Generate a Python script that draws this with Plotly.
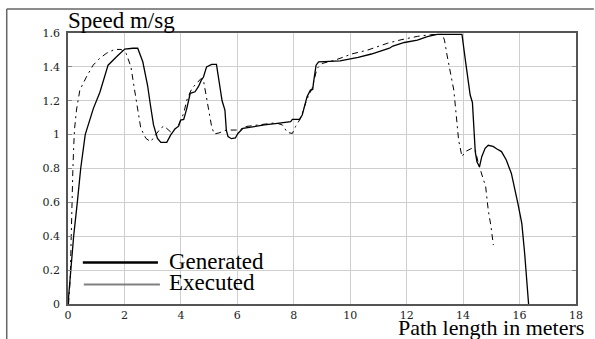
import plotly.graph_objects as go

# Generated speed profile (solid)
gen_x = [0, 0.1, 0.2, 0.33, 0.45, 0.61, 0.9, 1.13, 1.42, 1.72, 2.01, 2.30, 2.47, 2.65, 2.82, 2.92,
         3.03, 3.17, 3.29, 3.50, 3.64, 3.80, 3.92, 3.99, 4.10, 4.21, 4.33, 4.50, 4.62, 4.72, 4.80,
         4.91, 5.09, 5.26, 5.38, 5.46, 5.56, 5.61, 5.67, 5.79, 5.93, 6.02, 6.20, 6.49, 6.96, 7.42,
         7.89, 7.95, 8.20, 8.30, 8.47, 8.59, 8.67, 8.71, 8.79, 8.88, 9.12, 9.64, 10.28, 10.75,
         11.39, 11.51, 11.92, 12.38, 12.73, 13.08, 13.43, 13.96, 14.08, 14.19, 14.25, 14.33, 14.38,
         14.43, 14.49, 14.54, 14.58, 14.66, 14.78, 14.89, 15.06, 15.20, 15.36, 15.53, 15.71, 15.94,
         16.08, 16.18, 16.32]
gen_y = [0, 0.2, 0.4, 0.6, 0.8, 1.0, 1.155, 1.25, 1.41, 1.46, 1.505, 1.51, 1.51, 1.43, 1.29, 1.175,
         1.057, 0.978, 0.954, 0.954, 0.998, 1.035, 1.05, 1.086, 1.09, 1.155, 1.244, 1.253, 1.283, 1.32, 1.34,
         1.40, 1.415, 1.415, 1.30, 1.20, 1.145, 1.027, 0.988, 0.976, 0.98, 1.007, 1.037, 1.043, 1.057, 1.067,
         1.076, 1.09, 1.09, 1.116, 1.224, 1.263, 1.267, 1.32, 1.41, 1.43, 1.432, 1.435, 1.456, 1.476,
         1.51, 1.523, 1.544, 1.558, 1.578, 1.592, 1.592, 1.592, 1.44, 1.303, 1.234, 1.19, 1.057,
         0.90, 0.84, 0.82, 0.81, 0.87, 0.919, 0.937, 0.93, 0.915, 0.90, 0.85, 0.771, 0.594,
         0.476, 0.30, 0]

# Executed speed profile (dash-dot)
exe_x = [0.02, 0.08, 0.10, 0.12, 0.14, 0.17, 0.20, 0.23, 0.30, 0.42, 0.65, 0.89, 1.12, 1.36, 1.65,
         1.88, 2.06, 2.23, 2.35, 2.46, 2.58, 2.76, 2.93, 3.10, 3.28, 3.40, 3.51, 3.63, 3.75, 3.92,
         4.10, 4.21, 4.39, 4.56, 4.72, 4.80, 4.86, 4.97, 5.09, 5.18, 5.35, 5.61, 6.08, 6.26, 6.78,
         7.36, 7.60, 7.77, 7.95, 8.06, 8.24, 8.47, 8.65, 8.82, 9.00, 9.47, 10.05, 10.63, 11.33,
         11.80, 12.38, 12.85, 13.26, 13.34, 13.43, 13.55, 13.67, 13.75, 13.84, 13.96, 14.08, 14.31,
         14.43, 14.54, 14.66, 14.80, 14.89, 14.99, 15.07]
exe_y = [0, 0.15, 0.3, 0.5, 0.65, 0.78, 0.92, 1.03, 1.145, 1.263, 1.34, 1.41, 1.45, 1.48, 1.503,
         1.503, 1.48, 1.40, 1.273, 1.145, 1.037, 0.978, 0.958, 0.998, 1.037, 1.051, 1.037, 1.017, 1.027, 1.057,
         1.126, 1.204, 1.273, 1.303, 1.332, 1.32, 1.263, 1.145, 1.047, 1.004, 1.01, 1.027, 1.027, 1.047, 1.057,
         1.070, 1.057, 1.013, 1.007, 1.047, 1.096, 1.21, 1.273, 1.39, 1.42, 1.44, 1.476, 1.5, 1.54,
         1.56, 1.58, 1.59, 1.592, 1.558, 1.47, 1.372, 1.263, 1.126, 0.968, 0.87, 0.90, 0.919,
         0.91, 0.83, 0.771, 0.692, 0.555, 0.456, 0.348]

x_ticks = [0, 2, 4, 6, 8, 10, 12, 14, 16, 18]
y_ticks = [0, 0.2, 0.4, 0.6, 0.8, 1.0, 1.2, 1.4, 1.6]
y_tick_labels = ["0", "0.2", "0.4", "0.6", "0.8", "1", "1.2", "1.4", "1.6"]
legend_names = ["Generated", "Executed"]

SERIF = "Liberation Serif, Times New Roman, serif"
TICKFONT = dict(family="DejaVu Serif, serif", size=11, color="#222")

fig = go.Figure()
fig.add_trace(go.Scatter(x=exe_x, y=exe_y, mode="lines", showlegend=False,
                         line=dict(color="black", width=1, dash="6px,4px,2px,4px")))
fig.add_trace(go.Scatter(x=gen_x, y=gen_y, mode="lines", showlegend=False,
                         line=dict(color="black", width=1.3)))

L, R, T, B = 68, 13, 33, 35
W, H = 595, 339
pw, ph = W - L - R, H - T - B

def px(xp):
    return (xp - L) / pw

def py(yp):
    return (H - B - yp) / ph

shapes = [
    # outer frame (top and left)
    dict(type="line", xref="paper", yref="paper", x0=px(6), x1=px(600), y0=py(9), y1=py(9),
         line=dict(color="#666", width=1.5)),
    dict(type="line", xref="paper", yref="paper", x0=px(6), x1=px(6), y0=py(9), y1=py(345),
         line=dict(color="#666", width=1.5)),
    # legend samples
    dict(type="line", xref="paper", yref="paper", x0=px(83), x1=px(159), y0=py(262.5), y1=py(262.5),
         line=dict(color="black", width=2.6)),
    dict(type="line", xref="paper", yref="paper", x0=px(84), x1=px(161), y0=py(284.5), y1=py(284.5),
         line=dict(color="#808080", width=2)),
]

annotations = [
    dict(text="Speed m/sg", xref="paper", yref="paper", x=px(66), y=py(35), xanchor="left",
         yanchor="bottom", showarrow=False, font=dict(family=SERIF, size=23, color="black")),
    dict(text="Path length in meters", xref="paper", yref="paper", x=px(592), y=py(327.5),
         xanchor="right", yanchor="middle", showarrow=False,
         font=dict(family=SERIF, size=22, color="black")),
    dict(text=legend_names[0], xref="paper", yref="paper", x=px(168), y=py(261),
         xanchor="left", yanchor="middle", showarrow=False,
         font=dict(family=SERIF, size=23, color="black")),
    dict(text=legend_names[1], xref="paper", yref="paper", x=px(168), y=py(282),
         xanchor="left", yanchor="middle", showarrow=False,
         font=dict(family=SERIF, size=23, color="black")),
]

fig.update_layout(
    width=W, height=H,
    margin=dict(l=L, r=R, t=T, b=B),
    paper_bgcolor="white", plot_bgcolor="white",
    showlegend=False,
    shapes=shapes, annotations=annotations,
    xaxis=dict(range=[0, 18], tickvals=x_ticks, ticktext=[str(v) for v in x_ticks],
               showgrid=True, gridcolor="#cfcfcf", gridwidth=1, zeroline=False,
               showline=True, linecolor="#555", linewidth=1.5, mirror=True,
               ticks="", tickfont=TICKFONT, ticklabelstandoff=0),
    yaxis=dict(range=[0, 1.6], tickvals=y_ticks, ticktext=y_tick_labels,
               showgrid=True, gridcolor="#cfcfcf", gridwidth=1, zeroline=False,
               showline=True, linecolor="#555", linewidth=1.5, mirror="ticks",
               ticks="inside", ticklen=4, tickcolor="#888", tickwidth=1,
               tickfont=TICKFONT, ticklabelstandoff=4),
)

fig.write_html("out.html", config={"displayModeBar": False},
               post_script="document.body.style.margin='0';document.body.style.overflow='hidden';")
